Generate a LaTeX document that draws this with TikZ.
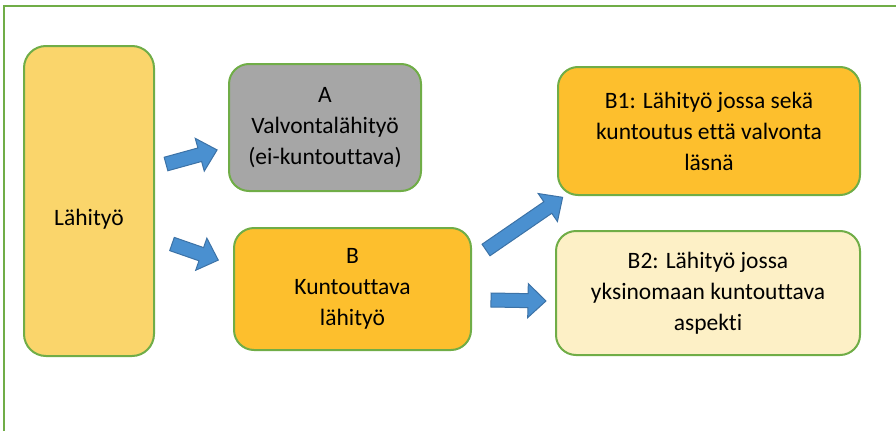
\documentclass[tikz,border=0pt]{standalone}
\usepackage{fontspec}
\setmainfont[Ligatures=NoCommon]{Carlito}
\definecolor{frame}{HTML}{70AD47}
\definecolor{lahfill}{HTML}{FAD56B}
\definecolor{greyfill}{HTML}{A6A6A6}
\definecolor{orangefill}{HTML}{FDBF2D}
\definecolor{palefill}{HTML}{FDF0C6}
\definecolor{arrowfill}{HTML}{4A90D0}
\definecolor{arrowline}{HTML}{3C72A6}
\tikzset{
  boxfont/.style={font=\fontsize{23.5}{31}\selectfont},
  box/.style={draw=frame, line width=2pt, rounded corners=20pt, align=center,
    inner sep=0pt, boxfont},
  blockarrow/.style={fill=arrowfill, draw=arrowline, line width=1pt, line join=miter},
}
% block arrow: tail centre, angle (deg), length
\newcommand\bluearrow[3]{%
  \begin{scope}[shift={(#1)}, rotate=#2]
    \draw[blockarrow] (0,-7) -- ({#3-18},-7) -- ({#3-18},-17) -- (#3,0)
      -- ({#3-18},17) -- ({#3-18},7) -- (0,7) -- cycle;
  \end{scope}}
\begin{document}
\begin{tikzpicture}[x=1pt, y=-1pt]
  \useasboundingbox (0,0) rectangle (896,431);
  % open frame: left and top edges only
  \draw[frame, line width=2pt] (4,431) -- (4,6) -- (896,6);

  \node[box, fill=lahfill, rounded corners=22pt, minimum width=130pt, minimum height=310pt] (lah) at (89,201) {};
  \node[boxfont] (lahtext) at ([yshift=-18pt]lah.center) {Lähityö};

  \node[box, fill=greyfill, minimum width=192pt, minimum height=127pt] (a) at (325,127.5)
    {A\\Valvontalähityö\\(ei-kuntouttava)};
  \node[box, fill=orangefill, minimum width=237pt, minimum height=122pt] (b) at (352.5,289)
    {B\\Kuntouttava\\lähityö};
  \node[box, fill=orangefill, minimum width=302pt, minimum height=128pt] (b1) at (709,131)
    {B1: Lähityö jossa sekä\\kuntoutus että valvonta\\läsnä};
  \node[box, fill=palefill, minimum width=304pt, minimum height=124pt] (b2) at (708,293)
    {B2: Lähityö jossa\\yksinomaan kuntouttava\\aspekti};

  \bluearrow{166,164}{15.4}{53}
  \bluearrow{172,244}{-19.2}{49}
  \bluearrow{486,250}{34.5}{93}
  \bluearrow{491,300}{-1}{55}
\end{tikzpicture}
\end{document}
